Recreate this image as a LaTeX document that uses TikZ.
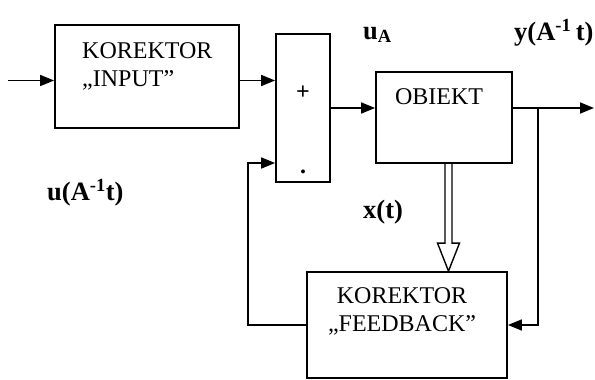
\documentclass[tikz,border=0pt]{standalone}
\usepackage{fontspec}
\setmainfont{Liberation Serif}
\usetikzlibrary{arrows.meta,calc}
\begin{document}
\begin{tikzpicture}[x=1pt,y=-1pt,
  blk/.style={draw, line width=1.8pt, inner sep=0pt},
  lbl/.style={font=\fontsize{24}{28}\selectfont, inner sep=0pt},
  sig/.style={font=\bfseries\fontsize{26.5}{28}\selectfont, inner sep=0pt},
  wire/.style={line width=1.7pt},
  arr/.style={wire, -{Triangle[length=14pt,width=11pt]}}
]
\useasboundingbox (0,0) rectangle (595,380);

% blocks
\node[blk, minimum width=184pt, minimum height=103pt] (kin) at (147,76.5) {};
\node[lbl, anchor=west, align=left] (kintxt) at (82,66) {KOREKTOR\\„INPUT”};

\node[blk, minimum width=54pt, minimum height=148pt] (sum) at (303,108) {};
\node[lbl] (plus) at (303,93) {\textbf{+}};
\node[lbl] (minus) at (303,172) {\textbf{.}};

\node[blk, minimum width=136pt, minimum height=91pt] (obj) at (444,117.5) {};
\node[lbl] (objtxt) at (439,97) {OBIEKT};

\node[blk, minimum width=200pt, minimum height=106pt] (fb) at (407,325) {};
\node[lbl, align=center] (fbtxt) at (402,311) {KOREKTOR\\„FEEDBACK”};

% wires
\coordinate (in) at (8,80.5);
\draw[arr] (in) -- (in -| kin.west);
\draw[arr] (kin.east |- in) -- (sum.west |- in);
\draw[arr] (sum.east) -- (sum.east -| obj.west);
\coordinate (out) at (594,108);
\coordinate (br) at (538,108);
\draw[arr] (sum.east -| obj.east) -- (out);
\draw[arr] (br) |- (fb.east);
\coordinate (fbl) at (248,163);
\draw[arr] (fb.west) -| (fbl) -- (fbl -| sum.west);

% hollow arrow
\coordinate (hs) at ([xshift=4.5pt]obj.south);
\coordinate (he) at (hs |- fb.north);
\draw[line width=1.4pt, line join=miter]
  ([xshift=-3.5pt]hs) -- ([xshift=-3.5pt,yshift=28pt]he)
  -- ([xshift=-11pt,yshift=28pt]he) -- (he)
  -- ([xshift=11pt,yshift=28pt]he) -- ([xshift=3.5pt,yshift=28pt]he)
  -- ([xshift=3.5pt]hs);

% labels
\node[sig, anchor=west] (ua) at (363,35) {u\textsubscript{A}};
\node[sig, anchor=west] (ylab) at (514,33) {y(A\textsuperscript{-1}\,t)};
\node[sig, anchor=west] (ulab) at (47,193) {u(A\textsuperscript{-1}t)};
\node[sig, anchor=west] (xlab) at (363,212) {x(t)};
\end{tikzpicture}
\end{document}
